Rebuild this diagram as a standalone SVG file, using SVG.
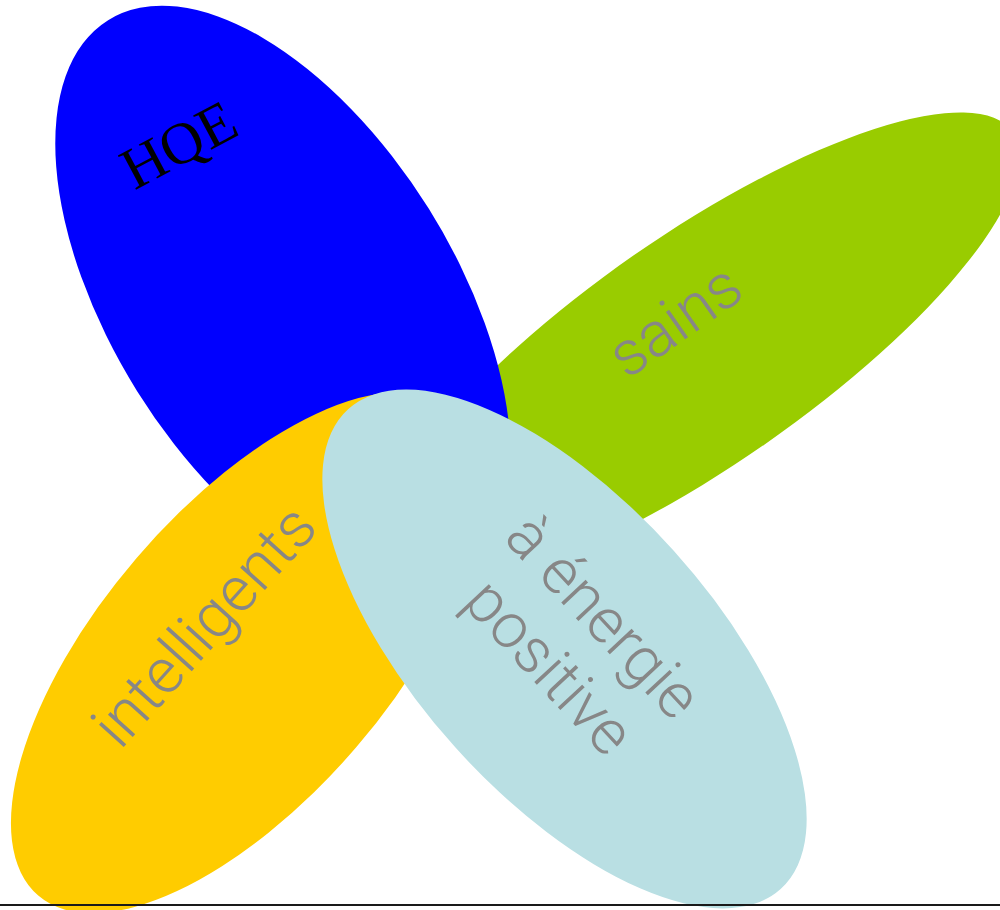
<svg xmlns="http://www.w3.org/2000/svg" width="1000" height="910" viewBox="0 0 1000 910">
  <style>
    .petal { stroke: none; }
    .label { font-family: Roboto, "Liberation Sans", Arial, sans-serif; font-weight: 300; font-size: 63px; fill: #878787; text-anchor: middle; }
    .title { font-family: "Liberation Serif", "Times New Roman", serif; font-size: 59px; fill: #000000; text-anchor: middle; }
  </style>
  <rect width="1000" height="910" fill="#ffffff"/>

  <g id="node-sains">
    <ellipse class="petal" cx="699" cy="350" rx="382" ry="115" fill="#99cc00" transform="rotate(-34.8 699 350)"/>
    <text class="label" transform="translate(687 338) rotate(-35)">sains</text>
  </g>

  <g id="node-hqe">
    <ellipse class="petal" cx="283" cy="300" rx="330" ry="172" fill="#0000ff" transform="rotate(58 283 300)"/>
    <text class="title" transform="translate(188 162) rotate(-28)">HQE</text>
  </g>

  <g id="node-intelligents">
    <ellipse class="petal" cx="246.5" cy="652.5" rx="320" ry="145" fill="#ffcc00" transform="rotate(-49.4 246.5 652.5)"/>
    <text class="label" transform="translate(220 640) rotate(-48)">intelligents</text>
  </g>

  <g id="node-energie-positive">
    <ellipse class="petal" cx="564.5" cy="649" rx="323" ry="147" fill="#b9dfe3" transform="rotate(48 564.5 649)"/>
    <text class="label" transform="translate(588 631) rotate(47)"><tspan x="0" y="0">à énergie</tspan><tspan x="0" y="74">positive</tspan></text>
  </g>

  <g id="connectors">
    <line x1="0" y1="905" x2="1000" y2="905" stroke="#1a1a1a" stroke-width="2"/>
  </g>
</svg>
